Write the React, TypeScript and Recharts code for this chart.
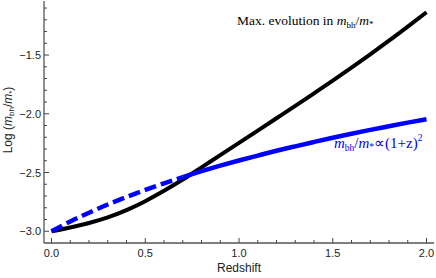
import React from 'react'
import { LineChart, Line, XAxis, YAxis } from 'recharts'

// redshift grid and the two curves
const redshift = [0, 0.1, 0.2, 0.3, 0.4, 0.5, 0.6, 0.7, 0.8, 0.9, 1.0, 1.1, 1.2, 1.3, 1.4, 1.5, 1.6, 1.7, 1.8, 1.9, 2.0]
const maxEvolution = [
  -3.0, -2.968, -2.93, -2.882, -2.82, -2.744, -2.656, -2.56, -2.456, -2.352, -2.248,
  -2.143, -2.038, -1.933, -1.826, -1.718, -1.607, -1.494, -1.378, -1.258, -1.136,
]
const powerLaw = [
  -3.0, -2.917, -2.842, -2.772, -2.708, -2.648, -2.592, -2.539, -2.489, -2.442, -2.398,
  -2.356, -2.315, -2.277, -2.24, -2.204, -2.17, -2.137, -2.106, -2.075, -2.046,
]
const dashedUpTo = 0.7

const xTicks = [0, 0.1, 0.2, 0.3, 0.4, 0.5, 0.6, 0.7, 0.8, 0.9, 1.0, 1.1, 1.2, 1.3, 1.4, 1.5, 1.6, 1.7, 1.8, 1.9, 2.0]
const yTicks = [-3.0, -2.9, -2.8, -2.7, -2.6, -2.5, -2.4, -2.3, -2.2, -2.1, -2.0, -1.9, -1.8, -1.7, -1.6, -1.5, -1.4, -1.3, -1.2, -1.1]

const data = redshift.map((z, i) => ({
  z,
  black: maxEvolution[i],
  blueDash: z <= dashedUpTo + 1e-9 ? powerLaw[i] : null,
  blueSolid: z >= dashedUpTo - 1e-9 ? powerLaw[i] : null,
}))

const isMajor = (v: number) => Math.abs(v * 2 - Math.round(v * 2)) < 1e-6
const fmt = (v: number) => v.toFixed(1).replace('-', '\u2212')

const tickFont = { fontFamily: 'Liberation Sans, Arial, sans-serif', fontSize: 11, fill: '#222' }

const LeftTick = ({ x, y, payload }: any) => {
  const major = isMajor(payload.value)
  return (
    <g>
      <line x1={x} x2={x + (major ? 5 : 3)} y1={y} y2={y} stroke="#444" strokeWidth={1} />
      {major && (
        <text x={x - 3} y={y + 4} textAnchor="end" {...tickFont}>
          {fmt(payload.value)}
        </text>
      )}
    </g>
  )
}

const BottomTick = ({ x, y, payload }: any) => {
  const major = isMajor(payload.value)
  return (
    <g>
      <line x1={x} x2={x} y1={y} y2={y - (major ? 5 : 3)} stroke="#444" strokeWidth={1} />
      {major && (
        <text x={x} y={y + 14} textAnchor="middle" {...tickFont}>
          {fmt(payload.value)}
        </text>
      )}
    </g>
  )
}

const RightTick = ({ x, y }: any) => (
  <line x1={x} x2={x - 2} y1={y} y2={y} stroke="#666" strokeWidth={1} />
)

const serif = 'Liberation Serif, Times New Roman, serif'
const sans = 'Liberation Sans, Arial, sans-serif'

export default function App() {
  return (
    <div style={{ position: 'absolute', left: 0, top: 0, width: 436, height: 278, background: '#fff' }}>
      <LineChart width={436} height={278} data={data} margin={{ top: 1, right: 2, left: 0, bottom: 0 }}>
        <XAxis
          dataKey="z"
          type="number"
          domain={[-0.04, 2.04]}
          ticks={xTicks}
          interval={0}
          height={35}
          tickSize={0}
          tickMargin={0}
          tickLine={false}
          tick={BottomTick}
          axisLine={{ stroke: '#555', strokeWidth: 1.3 }}
        />
        <XAxis
          xAxisId="top"
          orientation="top"
          dataKey="z"
          type="number"
          domain={[-0.04, 2.04]}
          height={0}
          tick={false}
          tickLine={false}
          axisLine={{ stroke: '#888', strokeWidth: 2 }}
        />
        <YAxis
          type="number"
          domain={[-3.1, -1.04]}
          ticks={yTicks}
          interval={0}
          width={44}
          tickSize={0}
          tickMargin={0}
          tickLine={false}
          tick={LeftTick}
          axisLine={{ stroke: '#555', strokeWidth: 1.3 }}
        />
        <YAxis
          yAxisId="right"
          orientation="right"
          type="number"
          domain={[-3.1, -1.04]}
          ticks={yTicks}
          interval={0}
          width={0}
          tickSize={0}
          tickMargin={0}
          tickLine={false}
          tick={RightTick}
          axisLine={{ stroke: '#888', strokeWidth: 2 }}
        />
        <Line
          dataKey="black"
          type="monotone"
          stroke="#000"
          strokeWidth={4}
          dot={false}
          isAnimationActive={false}
        />
        <Line
          dataKey="blueDash"
          type="monotone"
          stroke="#0000ff"
          strokeWidth={4.5}
          strokeDasharray="12 5"
          dot={false}
          connectNulls={false}
          isAnimationActive={false}
        />
        <Line
          dataKey="blueSolid"
          type="monotone"
          stroke="#0000ff"
          strokeWidth={4.5}
          dot={false}
          connectNulls={false}
          isAnimationActive={false}
        />
      </LineChart>
      <svg
        width={436}
        height={278}
        style={{ position: 'absolute', left: 0, top: 0, pointerEvents: 'none' }}
      >
        <text x={237} y={25} fontFamily={serif} fontSize={13.5} fill="#000">
          Max. evolution in <tspan fontStyle="italic">m</tspan>
          <tspan fontSize={9} dy={3}>bh</tspan>
          <tspan dy={-3}>/</tspan>
          <tspan fontStyle="italic">m</tspan>
          <tspan fontSize={9} dy={2}>*</tspan>
        </text>
        <text x={334} y={148} fontFamily={serif} fontSize={15} fill="#0000ff">
          <tspan fontStyle="italic">m</tspan>
          <tspan fontSize={9.5} dy={3}>bh</tspan>
          <tspan dy={-3}>/</tspan>
          <tspan fontStyle="italic">m</tspan>
          <tspan fontSize={9.5} dy={2}>*</tspan>
          <tspan dy={-2}>{'\u221D(1+z)'}</tspan>
          <tspan fontSize={9.5} dy={-7}>2</tspan>
        </text>
        <text x={239} y={272} textAnchor="middle" fontFamily={sans} fontSize={12} fill="#222">
          Redshift
        </text>
        <text
          x={0}
          y={0}
          transform="translate(12,120) rotate(-90)"
          textAnchor="middle"
          fontFamily={sans}
          fontSize={12}
          fill="#222"
        >
          Log (<tspan fontStyle="italic">m</tspan>
          <tspan fontSize={8} dy={2}>bh</tspan>
          <tspan dy={-2}>/</tspan>
          <tspan fontStyle="italic">m</tspan>
          <tspan fontSize={8} dy={2}>*</tspan>
          <tspan dy={-2}>)</tspan>
        </text>
      </svg>
    </div>
  )
}
